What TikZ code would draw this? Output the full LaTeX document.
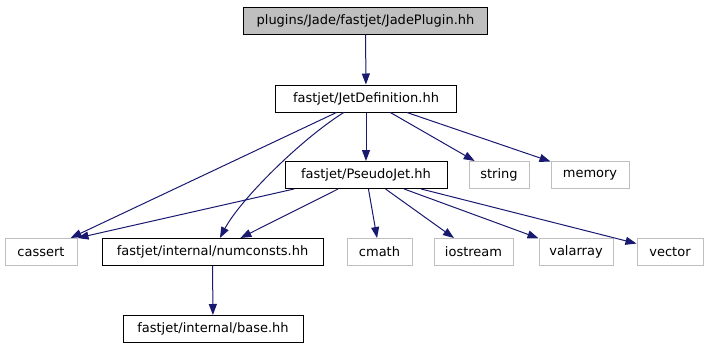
\documentclass[tikz,border=0pt]{standalone}
\usepackage{fontspec}
\setmainfont{DejaVu Sans}
\usepackage{tikz}
\usetikzlibrary{arrows.meta,positioning}
\usepackage{xcolor}
\definecolor{edgeblue}{RGB}{25,25,112}
\definecolor{sysgray}{RGB}{191,191,191}
\tikzset{
  hdr/.style={rectangle, draw=black, line width=1pt, inner sep=0pt,
              minimum height=27pt, font=\fontsize{13}{15}\selectfont},
  sys/.style={hdr, draw=sysgray},
  inc/.style={-{Triangle[length=11pt,width=8pt]}, line width=1pt, color=edgeblue},
}
\begin{document}
\begin{tikzpicture}[x=1pt, y=-1pt]
    \useasboundingbox (0,0) rectangle (709,349);
    \node[hdr, fill=sysgray, minimum width=244pt] (jade) at (365.5,20.5) {plugins/Jade/fastjet/JadePlugin.hh};
    \node[hdr, minimum width=181pt] (jetdef) at (366,98.5) {fastjet/JetDefinition.hh};
    \node[hdr, minimum width=162pt] (pseudo) at (366,175) {fastjet/PseudoJet.hh};
    \node[sys, minimum width=60pt]  (str)    at (499,175) {string};
    \node[sys, minimum width=78pt]  (mem)    at (590,175) {memory};
    \node[sys, minimum width=72pt]  (cassert) at (41,252) {cassert};
    \node[hdr, minimum width=221pt] (numc)   at (212.5,252) {fastjet/internal/numconsts.hh};
    \node[sys, minimum width=65pt]  (cmath)  at (379.5,252) {cmath};
    \node[sys, minimum width=79pt]  (iostr)  at (473.5,252) {iostream};
    \node[sys, minimum width=74pt]  (valarr) at (576,252) {valarray};
    \node[sys, minimum width=66pt]  (vect)   at (670,252) {vector};
    \node[hdr, minimum width=180pt] (base)   at (213,329) {fastjet/internal/base.hh};
    \draw[inc] (jade)--(jetdef);
    \draw[inc] (jetdef)--(pseudo); \draw[inc] (jetdef)--(str);
    \draw[inc] (jetdef)--(mem); \draw[inc] (jetdef)--(cassert);
    \draw[inc] (jetdef) .. controls (300,140) and (240,200) .. (numc);
    \draw[inc] (pseudo.191)--(cassert.north east); \draw[inc] (pseudo)--(numc);
    \draw[inc] (pseudo)--(cmath); \draw[inc] (pseudo)--(iostr);
    \draw[inc] (pseudo)--(valarr); \draw[inc] (pseudo)--(vect);
    \draw[inc] (numc)--(base);
  \end{tikzpicture}
\end{document}
